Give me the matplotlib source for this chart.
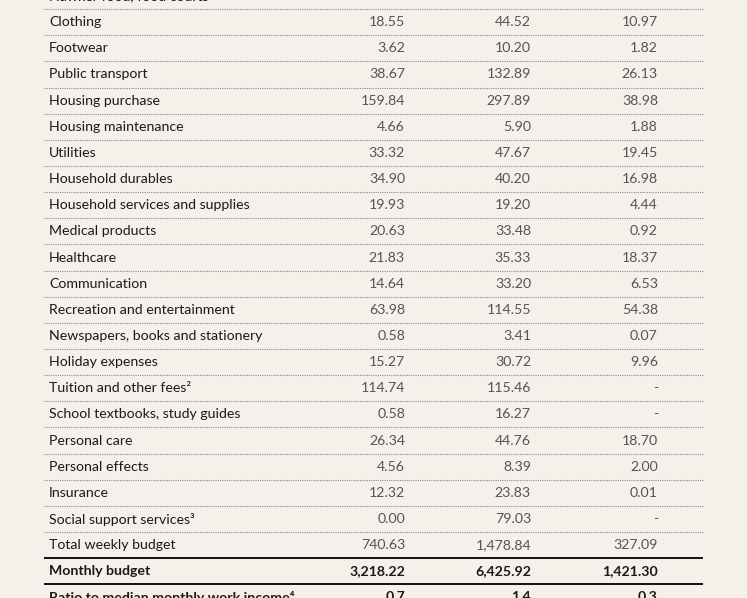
import matplotlib
matplotlib.use("Agg")
import matplotlib.pyplot as plt

plt.rcParams['font.family'] = ['Lato', 'DejaVu Sans']

# table content (top row is cut off in the reference, values estimated)
items = [
    "Hawker food, food courts", "Clothing", "Footwear", "Public transport",
    "Housing purchase", "Housing maintenance", "Utilities", "Household durables",
    "Household services and supplies", "Medical products", "Healthcare",
    "Communication", "Recreation and entertainment",
    "Newspapers, books and stationery", "Holiday expenses",
    "Tuition and other fees\u00b2", "School textbooks, study guides",
    "Personal care", "Personal effects", "Insurance",
    "Social support services\u00b3", "Total weekly budget",
]
col_a = ["81.00", "18.55", "3.62", "38.67", "159.84", "4.66", "33.32", "34.90",
         "19.93", "20.63", "21.83", "14.64", "63.98", "0.58", "15.27", "114.74",
         "0.58", "26.34", "4.56", "12.32", "0.00", "740.63"]
col_b = ["237.75", "44.52", "10.20", "132.89", "297.89", "5.90", "47.67", "40.20",
         "19.20", "33.48", "35.33", "33.20", "114.55", "3.41", "30.72", "115.46",
         "16.27", "44.76", "8.39", "23.83", "79.03", "1,478.84"]
col_c = ["55.90", "10.97", "1.82", "26.13", "38.98", "1.88", "19.45", "16.98",
         "4.44", "0.92", "18.37", "6.53", "54.38", "0.07", "9.96", "-",
         "-", "18.70", "2.00", "0.01", "-", "327.09"]

bold_items = ["Monthly budget", "Ratio to median monthly work income\u2074"]
bold_a = ["3,218.22", "0.7"]
bold_b = ["6,425.92", "1.4"]
bold_c = ["1,421.30", "0.3"]

W, H = 747, 598
fig = plt.figure(figsize=(W / 100, H / 100), dpi=100)
fig.patch.set_facecolor("#f4f1ea")
ax = fig.add_axes([0, 0, 1, 1])
ax.set_xlim(0, W)
ax.set_ylim(H, 0)
ax.axis("off")

x_label, x_a, x_b, x_c = 49, 405, 531, 658
x0, x1 = 44, 703
y_first = -4
pitch = 26.15
fs = 10.2

rows = [(t, a, b, c, False) for t, a, b, c in zip(items, col_a, col_b, col_c)]
rows += [(t, a, b, c, True) for t, a, b, c in zip(bold_items, bold_a, bold_b, bold_c)]

for i, (t, a, b, c, bold) in enumerate(rows):
    y = y_first + pitch * i
    w = "bold" if bold else "normal"
    ax.text(x_label, y, t, ha="left", va="center", fontsize=fs, color="#1a1a1a", fontweight=w)
    num_col = "#1a1a1a" if bold else "#555555"
    for x, v in ((x_a, a), (x_b, b), (x_c, c)):
        ax.text(x, y, v, ha="right", va="center", fontsize=fs, color=num_col, fontweight=w)
    yl = y + pitch / 2
    if t == "Total weekly budget" or t == "Monthly budget":
        ax.plot([x0, x1], [yl, yl], color="#111111", lw=1.4, solid_capstyle="butt")
    elif not bold:
        ax.plot([x0, x1], [yl, yl], color="#8a8a8a", lw=0.8, linestyle=(0, (1, 1)))

fig.savefig("out.png", dpi=100, facecolor=fig.get_facecolor())
